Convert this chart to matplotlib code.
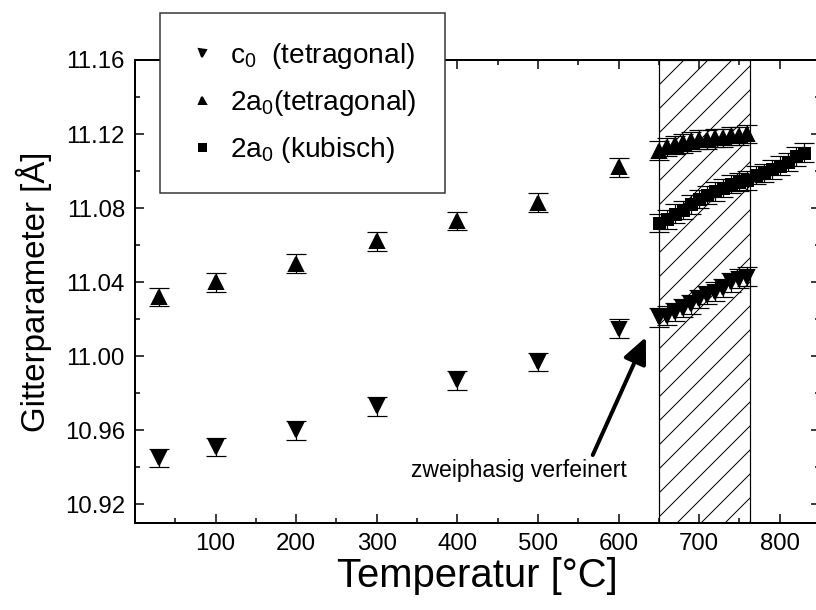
import matplotlib
matplotlib.use('Agg')
import matplotlib.pyplot as plt
from matplotlib.ticker import FixedLocator, MultipleLocator, FormatStrFormatter
from matplotlib.patches import Rectangle
from matplotlib.lines import Line2D

DPI = 144
PT = 72 / DPI  # points per pixel

plt.rcParams['font.family'] = ['Liberation Sans Narrow', 'Liberation Sans', 'DejaVu Sans']
plt.rcParams['mathtext.fontset'] = 'custom'
plt.rcParams['mathtext.rm'] = 'Liberation Sans'
plt.rcParams['mathtext.it'] = 'Liberation Sans'
plt.rcParams['hatch.linewidth'] = 1.0 * PT

# tetragonal phase, single-phase refinement
T_tet = [30, 100, 200, 300, 400, 500, 600]
c0_tet = [10.945, 10.951, 10.960, 10.973, 10.987, 10.997, 11.015]
a0_tet = [11.032, 11.040, 11.050, 11.062, 11.073, 11.083, 11.102]

# two-phase refinement
T_two = [650, 660, 670, 680, 690, 700, 710, 720, 730, 740, 750, 760]
c0_two = [11.021, 11.022, 11.024, 11.026, 11.028, 11.031, 11.033, 11.035, 11.037, 11.040, 11.042, 11.043]
a0_two = [11.111, 11.113, 11.114, 11.115, 11.116, 11.117, 11.117, 11.118, 11.118, 11.119, 11.119, 11.120]

# cubic phase
T_kub = [650, 660, 670, 680, 690, 700, 710, 720, 730, 740, 750, 760, 770, 780, 790, 800, 810, 820, 830]
a0_kub = [11.072, 11.074, 11.077, 11.079, 11.082, 11.085, 11.087, 11.089, 11.091, 11.093, 11.094, 11.095,
          11.098, 11.099, 11.101, 11.103, 11.105, 11.108, 11.110]

err = 0.005
two_phase = (650, 763)

W, H = 816, 610
fig = plt.figure(figsize=(W / DPI, H / DPI), dpi=DPI)
ax = fig.add_axes([135 / W, (H - 523) / H, (820 - 135) / W, (523 - 60) / H])

# hatched two-phase region
ax.add_patch(Rectangle((two_phase[0], 10.91), two_phase[1] - two_phase[0], 0.25,
                       facecolor='none', edgecolor='black', hatch='//', lw=1.2 * PT, zorder=1))

eb = dict(ls='none', color='black', ecolor='black', elinewidth=1.2 * PT,
          capsize=10 * PT, capthick=1.2 * PT, zorder=3)
ax.errorbar(T_tet + T_two, c0_tet + c0_two, yerr=err, marker='v', ms=14 * PT, **eb)
ax.errorbar(T_tet + T_two, a0_tet + a0_two, yerr=err, marker='^', ms=14 * PT, **eb)
ax.errorbar(T_kub, a0_kub, yerr=err, marker='s', ms=11 * PT, **eb)

ax.annotate('', xy=(634, 11.0104), xytext=(568, 10.9467),
            arrowprops=dict(arrowstyle='-|>,head_length=0.55,head_width=0.25',
                            lw=4 * PT, color='black', mutation_scale=40 * PT,
                            shrinkA=0, shrinkB=0))
ax.text(476, 10.9385, 'zweiphasig verfeinert', ha='center', va='center', fontsize=11.5)

ax.set_xlim(0, 850)
ax.set_ylim(10.91, 11.16)
ax.xaxis.set_major_locator(FixedLocator([100, 200, 300, 400, 500, 600, 700, 800]))
ax.xaxis.set_minor_locator(MultipleLocator(50))
ax.yaxis.set_major_locator(MultipleLocator(0.04))
ax.yaxis.set_minor_locator(MultipleLocator(0.02))
ax.yaxis.set_major_formatter(FormatStrFormatter('%.2f'))
ax.tick_params(which='both', direction='in', top=True, right=True, width=1.5 * PT,
               labelsize=12, pad=10 * PT)
ax.tick_params(which='major', length=9 * PT)
ax.tick_params(which='minor', length=5 * PT)
for s in ax.spines.values():
    s.set_linewidth(2 * PT)

ax.set_xlabel('Temperatur [°C]', fontsize=20)
ax.set_ylabel('Gitterparameter [Å]', fontsize=16.5, va='center')
ax.yaxis.set_label_coords(-0.147, 0.5)
ax.xaxis.set_label_coords(0.5, -0.115)
ax.xaxis.label.set_va('center')

handles = [Line2D([], [], ls='none', marker=m, color='black', ms=7 * PT) for m in ('v', '^', 's')]
labels = [r'c$_0$  (tetragonal)', r'2a$_0$(tetragonal)', r'2a$_0$ (kubisch)']
leg = fig.legend(handles, labels, loc='upper left', bbox_to_anchor=(160 / W, 1 - 13 / H),
                 fontsize=14, frameon=True, fancybox=False, edgecolor='#333333',
                 framealpha=1, borderpad=1.0, handlelength=1.0, handletextpad=0.5,
                 labelspacing=0.6, borderaxespad=0)
leg.get_frame().set_linewidth(1.5 * PT)

fig.savefig('out.png', dpi=DPI)
